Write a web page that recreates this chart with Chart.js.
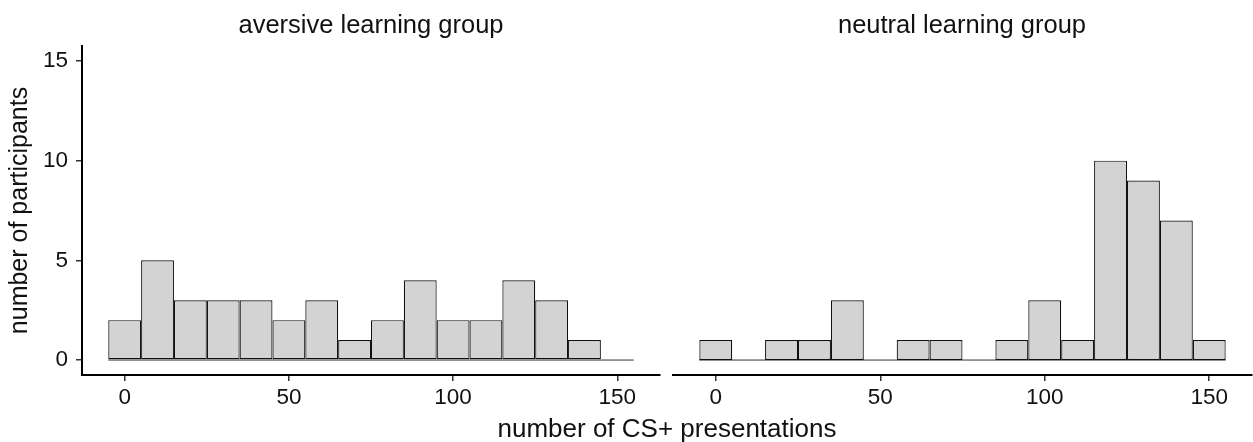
<!DOCTYPE html>
<html>
<head>
<meta charset="utf-8">
<script src="https://cdn.jsdelivr.net/npm/chart.js@4/dist/chart.umd.min.js"></script>
<style>
  html, body { margin: 0; padding: 0; background: #fff; }
  #wrap { position: relative; width: 1253px; height: 442px; overflow: hidden; background: #fff; }
  canvas { position: absolute; top: 0; }
  .txt { position: absolute; text-align: center; white-space: nowrap;
         font-family: 'Liberation Sans', Arial, sans-serif; line-height: 30px; color: #111; }
  #xtitle { left: 0; width: 1334px; top: 413px; font-size: 26px; }
  #tL { left: 71px; width: 600px; top: 9px; font-size: 25.5px; }
  #tR { left: 662px; width: 600px; top: 9px; font-size: 25.5px; }
</style>
</head>
<body>
<div id="wrap">
  <canvas id="cL" width="666" height="442" style="left:0px"></canvas>
  <canvas id="cR" width="587" height="442" style="left:666px"></canvas>
  <div id="tL" class="txt"></div>
  <div id="tR" class="txt"></div>
  <div id="xtitle" class="txt"></div>
</div>
<script>
// ---- data ----
const binCenters = [0, 10, 20, 30, 40, 50, 60, 70, 80, 90, 100, 110, 120, 130, 140, 150];
const binWidth = 10;
const aversiveCounts = [2, 5, 3, 3, 3, 2, 3, 1, 2, 4, 2, 2, 4, 3, 1, 0];
const neutralCounts  = [1, 0, 1, 1, 3, 0, 1, 1, 0, 1, 3, 1, 10, 9, 7, 1];
const xTickValues = [0, 50, 100, 150];
const yTickValues = [0, 5, 10, 15];
const panelTitles = ['aversive learning group', 'neutral learning group'];
const yAxisTitle = 'number of participants';
const xAxisTitle = 'number of CS+ presentations';

document.getElementById('tL').textContent = panelTitles[0];
document.getElementById('tR').textContent = panelTitles[1];
document.getElementById('xtitle').textContent = xAxisTitle;

Chart.defaults.font.family = "'Liberation Sans', Arial, sans-serif";
Chart.defaults.color = '#111';

function makeChart(id, counts, showY, padLeft, padRight) {
  const bars = binCenters.map((c, i) => ({ x: c, y: counts[i] }));
  const base = [
    { x: binCenters[0] - binWidth / 2, y: 0 },
    { x: binCenters[binCenters.length - 1] + binWidth / 2, y: 0 }
  ];
  return new Chart(document.getElementById(id), {
    data: {
      datasets: [
        {
          type: 'line', data: base, borderColor: '#333', borderWidth: 1,
          pointRadius: 0, order: 2
        },
        {
          type: 'bar', data: bars, backgroundColor: '#d3d3d3', borderColor: '#111',
          borderWidth: 1.2, borderSkipped: false, barPercentage: 1, categoryPercentage: 1,
          inflateAmount: 0, order: 1
        }
      ]
    },
    options: {
      responsive: false, animation: false, devicePixelRatio: 1,
      layout: { padding: { left: padLeft, right: padRight, top: 46, bottom: 0 } },
      plugins: { legend: { display: false }, tooltip: { enabled: false }, title: { display: false } },
      scales: {
        x: {
          type: 'linear', min: -13, max: 163, offset: false,
          afterBuildTicks: s => { s.ticks = xTickValues.map(v => ({ value: v })); },
          afterFit: s => { s.height = 67; },
          ticks: { font: { size: 22.5 }, color: '#111', padding: 3, maxRotation: 0 },
          grid: { display: true, offset: false, drawOnChartArea: false, drawTicks: true, tickLength: 6,
                  color: '#333', lineWidth: 1.5 },
          border: { display: true, color: '#000', width: 2 }
        },
        y: {
          type: 'linear', min: -0.75, max: 15.75, display: showY,
          afterBuildTicks: s => { s.ticks = yTickValues.map(v => ({ value: v })); },
          afterFit: s => { s.width = showY ? 82 : 0; },
          ticks: { font: { size: 22.5 }, color: '#111', padding: 8 },
          grid: { display: true, drawOnChartArea: false, drawTicks: true, tickLength: 6,
                  color: '#333', lineWidth: 1.5 },
          border: { display: true, color: '#000', width: 2 },
          title: { display: showY, text: yAxisTitle, font: { size: 25 }, color: '#111',
                   padding: { top: 5, bottom: 0 } }
        }
      }
    }
  });
}

makeChart('cL', aversiveCounts, true, 0, 6);
makeChart('cR', neutralCounts, false, 7, 1);
</script>
</body>
</html>
